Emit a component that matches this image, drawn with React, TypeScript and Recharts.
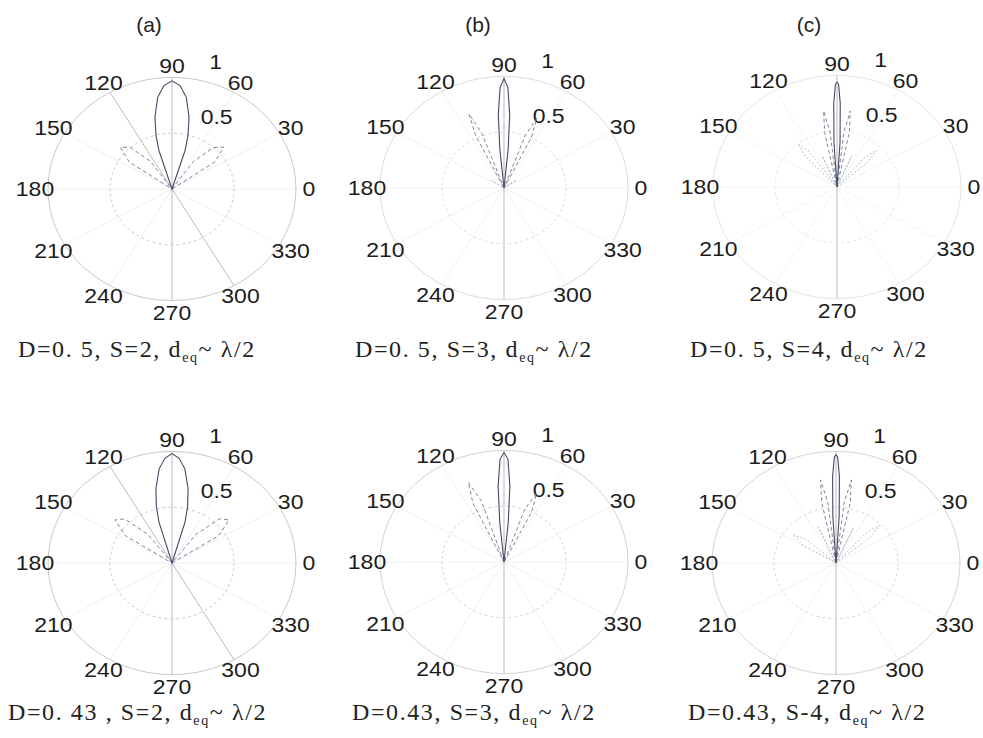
import { RadarChart, Radar, PolarGrid, PolarAngleAxis, PolarRadiusAxis } from "recharts";

/* polar pattern panels: three array sizes (S = 2, 3, 4) at two element spacings */

const ANGLE_TICKS = [0, 30, 60, 90, 120, 150, 180, 210, 240, 270, 300, 330];
const RADIUS_TICKS = [0.5, 1];
const RADIUS_LABEL_ANGLE = 82;

// (a) D=0.5, S=2
const A_MAIN_DEG = [70, 73, 75, 78, 82, 86, 90, 94, 98, 102, 105, 107, 110];
const A_MAIN_R = [0, 0.36, 0.5, 0.66, 0.83, 0.93, 0.97, 0.93, 0.83, 0.66, 0.5, 0.36, 0];
const A_SIDE_DEG = [28, 35, 42, 48, 55, 62, 118, 125, 132, 138, 145, 152];
const A_SIDE_R = [0, 0.42, 0.56, 0.5, 0.3, 0, 0, 0.3, 0.5, 0.56, 0.42, 0];

// (b) D=0.5, S=3
const B_MAIN_DEG = [83, 84.5, 86, 88, 90, 92, 94, 95.5, 97];
const B_MAIN_R = [0, 0.35, 0.66, 0.9, 0.98, 0.9, 0.66, 0.35, 0];
const B_SIDE_DEG = [61, 64, 67, 70, 73, 107, 110, 113, 116, 119];
const B_SIDE_R = [0, 0.5, 0.68, 0.5, 0, 0, 0.52, 0.72, 0.52, 0];
const B_LOW_DEG = [20, 35, 50, 130, 145, 160];
const B_LOW_R = [0, 0.12, 0, 0, 0.12, 0];

// (c) D=0.5, S=4
const C_MAIN_DEG = [85, 86.5, 88, 89.2, 90, 90.8, 92, 93.5, 95];
const C_MAIN_R = [0, 0.4, 0.75, 0.92, 0.94, 0.92, 0.75, 0.4, 0];
const C_SIDE_DEG = [76, 78.5, 81, 83.5, 86, 94, 96.5, 99, 101.5, 104];
const C_SIDE_R = [0, 0.5, 0.69, 0.5, 0, 0, 0.5, 0.69, 0.5, 0];
const C_OUTER_DEG = [38, 42, 46, 50, 54, 62, 67, 72, 108, 113, 118, 121, 125, 129, 133, 137];
const C_OUTER_R = [0, 0.34, 0.46, 0.34, 0, 0, 0.3, 0, 0, 0.3, 0, 0, 0.38, 0.5, 0.38, 0];

// (a') D=0.43, S=2
const A2_MAIN_DEG = [71, 74, 76, 79, 83, 86.5, 90, 93.5, 97, 101, 104, 106, 109];
const A2_MAIN_R = [0, 0.38, 0.52, 0.68, 0.85, 0.94, 0.98, 0.94, 0.85, 0.68, 0.52, 0.38, 0];
const A2_SIDE_DEG = [26, 33, 40, 46, 53, 60, 120, 127, 134, 140, 147, 154];
const A2_SIDE_R = [0, 0.45, 0.6, 0.55, 0.32, 0, 0, 0.32, 0.55, 0.6, 0.45, 0];

// (b') D=0.43, S=3
const B2_MAIN_DEG = [83, 84.5, 86, 88, 90, 92, 94, 95.5, 97];
const B2_MAIN_R = [0, 0.36, 0.68, 0.92, 0.98, 0.92, 0.68, 0.36, 0];
const B2_SIDE_DEG = [60, 63.5, 67, 70.5, 74, 105, 108.5, 112, 115.5, 119];
const B2_SIDE_R = [0, 0.5, 0.67, 0.5, 0, 0, 0.58, 0.77, 0.58, 0];

// (c') D=0.43, S=4
const C2_MAIN_DEG = [85, 86.5, 88, 89.2, 90, 90.8, 92, 93.5, 95];
const C2_MAIN_R = [0, 0.42, 0.78, 0.95, 0.97, 0.95, 0.78, 0.42, 0];
const C2_SIDE_DEG = [76, 78, 80.5, 83, 85, 95, 97, 99.5, 102, 104];
const C2_SIDE_R = [0, 0.55, 0.755, 0.55, 0, 0, 0.55, 0.755, 0.55, 0];
const C2_OUTER_DEG = [36, 40, 44, 48, 52, 60, 66, 72, 108, 114, 120, 134, 139, 144, 149, 154];
const C2_OUTER_R = [0, 0.36, 0.49, 0.36, 0, 0, 0.35, 0, 0, 0.35, 0, 0, 0.32, 0.43, 0.32, 0];

const R = 124; // outer ring radius (px, before squash)
const BOX = 360;
const SQUASH = 0.9;

const SANS = '"Liberation Sans", Arial, sans-serif';
const SERIF = '"Liberation Serif", "Times New Roman", serif';

type CurveStyle = { stroke: string; width: number; dash?: string };
const SOLID: CurveStyle = { stroke: "#454a66", width: 1.1 };
const DASHED: CurveStyle = { stroke: "#7a7e98", width: 1, dash: "4 3" };
const DOTTED: CurveStyle = { stroke: "#a2a5b8", width: 1, dash: "1.5 2.5" };

type Curve = { deg: number[]; r: number[]; style: CurveStyle };
type Panel = {
  cx: number;
  cy: number;
  ring: string;
  spoke: string;
  darkSpokes: number[];
  curves: Curve[];
};

const PANELS: Panel[] = [
  {
    cx: 172, cy: 189, ring: "#c4c4c4", spoke: "#eeeeee", darkSpokes: [90, 270, 120, 300],
    curves: [
      { deg: A_SIDE_DEG, r: A_SIDE_R, style: DASHED },
      { deg: A_MAIN_DEG, r: A_MAIN_R, style: SOLID },
    ],
  },
  {
    cx: 504, cy: 188, ring: "#d8d8d8", spoke: "#f0f0f0", darkSpokes: [90, 270],
    curves: [
      { deg: B_LOW_DEG, r: B_LOW_R, style: DOTTED },
      { deg: B_SIDE_DEG, r: B_SIDE_R, style: DASHED },
      { deg: B_MAIN_DEG, r: B_MAIN_R, style: SOLID },
    ],
  },
  {
    cx: 837, cy: 187, ring: "#e4e4e4", spoke: "#f3f3f3", darkSpokes: [90, 270],
    curves: [
      { deg: C_OUTER_DEG, r: C_OUTER_R, style: DOTTED },
      { deg: C_SIDE_DEG, r: C_SIDE_R, style: DASHED },
      { deg: C_MAIN_DEG, r: C_MAIN_R, style: SOLID },
    ],
  },
  {
    cx: 172, cy: 563, ring: "#c4c4c4", spoke: "#eeeeee", darkSpokes: [90, 270, 120, 300],
    curves: [
      { deg: A2_SIDE_DEG, r: A2_SIDE_R, style: DASHED },
      { deg: A2_MAIN_DEG, r: A2_MAIN_R, style: SOLID },
    ],
  },
  {
    cx: 504, cy: 562, ring: "#d0d0d0", spoke: "#efefef", darkSpokes: [90, 270],
    curves: [
      { deg: B2_SIDE_DEG, r: B2_SIDE_R, style: DASHED },
      { deg: B2_MAIN_DEG, r: B2_MAIN_R, style: SOLID },
    ],
  },
  {
    cx: 836, cy: 563, ring: "#d2d2d2", spoke: "#f0f0f0", darkSpokes: [90, 270],
    curves: [
      { deg: C2_OUTER_DEG, r: C2_OUTER_R, style: DOTTED },
      { deg: C2_SIDE_DEG, r: C2_SIDE_R, style: DASHED },
      { deg: C2_MAIN_DEG, r: C2_MAIN_R, style: SOLID },
    ],
  },
];

const TITLES = [
  { text: "(a)", x: 149, y: 25 },
  { text: "(b)", x: 478, y: 25 },
  { text: "(c)", x: 809, y: 25 },
];

const CAPTIONS = [
  { pre: "D=0. 5, S=2, ", x: 18, y: 336 },
  { pre: "D=0. 5, S=3, ", x: 355, y: 336 },
  { pre: "D=0. 5, S=4, ", x: 690, y: 336 },
  { pre: "D=0. 43 , S=2, ", x: 8, y: 699 },
  { pre: "D=0.43, S=3, ", x: 352, y: 699 },
  { pre: "D=0.43, S-4, ", x: 688, y: 699 },
];

function AngleTick(props: any) {
  const { x, y, payload } = props;
  if (!payload || payload.value >= 360) return <g />;
  return (
    <text x={x} y={y} dy="0.36em" textAnchor="middle" fontSize={23} fontFamily={SANS} fill="#1c1c1c">
      {payload.value}
    </text>
  );
}

// ring values written just right of the 82° ray
function RadiusLabel(props: any) {
  const { x, y, value } = props;
  return (
    <text x={x + 20} y={y - 11} textAnchor="start" fontSize={23} fontFamily={SANS} fill="#1c1c1c">
      {String(value)}
    </text>
  );
}

function Layer({ data, children }: { data: any[]; children: React.ReactNode }) {
  return (
    <div style={{ position: "absolute", left: 0, top: 0 }}>
      <RadarChart
        width={BOX}
        height={BOX}
        cx={BOX / 2}
        cy={BOX / 2}
        outerRadius={R}
        startAngle={0}
        endAngle={360}
        data={data}
        margin={{ top: 0, right: 0, bottom: 0, left: 0 }}
      >
        {children}
      </RadarChart>
    </div>
  );
}

function GridLayer({ panel }: { panel: Panel }) {
  const data = ANGLE_TICKS.map((a) => ({ a, z: 0 }));
  const light = ANGLE_TICKS.filter((d) => !panel.darkSpokes.includes(d));
  return (
    <Layer data={data}>
      <PolarGrid gridType="circle" polarRadius={[]} polarAngles={light} stroke={panel.spoke} />
      <PolarGrid gridType="circle" polarRadius={[]} polarAngles={panel.darkSpokes} stroke="#b8b8b8" />
      <PolarGrid gridType="circle" polarRadius={[R / 2]} polarAngles={[]} stroke={panel.ring} strokeDasharray="3 3" />
      <PolarGrid gridType="circle" polarRadius={[R]} polarAngles={[]} stroke={panel.ring} />
      <PolarAngleAxis
        dataKey="a"
        type="number"
        domain={[0, 360]}
        ticks={ANGLE_TICKS as any}
        tickCount={13}
        tick={<AngleTick />}
        tickSize={13}
        tickLine={false}
        axisLine={false}
      />
      <PolarRadiusAxis domain={[0, 1]} tick={false} axisLine={false} />
      <Radar dataKey="z" stroke="none" fill="none" dot={false} isAnimationActive={false} />
    </Layer>
  );
}

function RadiusLabelLayer() {
  const data = RADIUS_TICKS.map((r) => ({ a: RADIUS_LABEL_ANGLE, r }));
  return (
    <Layer data={data}>
      <PolarAngleAxis dataKey="a" type="number" domain={[0, 360]} tick={false} tickLine={false} axisLine={false} />
      <PolarRadiusAxis domain={[0, 1]} tick={false} axisLine={false} />
      <Radar
        dataKey="r"
        stroke="none"
        fill="none"
        dot={false}
        label={<RadiusLabel />}
        isAnimationActive={false}
      />
    </Layer>
  );
}

function CurveLayer({ curve }: { curve: Curve }) {
  const data = curve.deg.map((a, i) => ({ a, r: curve.r[i] }));
  return (
    <Layer data={data}>
      <PolarAngleAxis dataKey="a" type="number" domain={[0, 360]} tick={false} tickLine={false} axisLine={false} />
      <PolarRadiusAxis domain={[0, 1]} tick={false} axisLine={false} />
      <Radar
        dataKey="r"
        stroke={curve.style.stroke}
        strokeWidth={curve.style.width}
        strokeDasharray={curve.style.dash}
        fill="none"
        fillOpacity={0}
        dot={false}
        isAnimationActive={false}
      />
    </Layer>
  );
}

function PolarPanel({ panel }: { panel: Panel }) {
  return (
    <div
      style={{
        position: "absolute",
        left: panel.cx - BOX / 2,
        top: panel.cy - BOX / 2,
        width: BOX,
        height: BOX,
        transform: `scaleY(${SQUASH})`,
        transformOrigin: "50% 50%",
      }}
    >
      <GridLayer panel={panel} />
      <RadiusLabelLayer />
      {panel.curves.map((c, i) => (
        <CurveLayer key={i} curve={c} />
      ))}
    </div>
  );
}

export default function App() {
  return (
    <div
      style={{
        position: "absolute",
        left: 0,
        top: 0,
        width: 983,
        height: 738,
        overflow: "hidden",
        background: "#fff",
      }}
    >
      {PANELS.map((p, i) => (
        <PolarPanel key={i} panel={p} />
      ))}
      {TITLES.map((t) => (
        <div
          key={t.text}
          style={{
            position: "absolute",
            left: t.x,
            top: t.y,
            transform: "translate(-50%, -50%)",
            font: `21px ${SANS}`,
            color: "#222",
          }}
        >
          {t.text}
        </div>
      ))}
      {CAPTIONS.map((c, i) => (
        <div
          key={i}
          style={{
            position: "absolute",
            left: c.x,
            top: c.y,
            font: `24px ${SERIF}`,
            letterSpacing: 1.6,
            whiteSpace: "pre",
            color: "#222",
          }}
        >
          {c.pre}d
          <span style={{ fontSize: 14, position: "relative", top: 5 }}>eq</span>
          {"~ λ/2"}
        </div>
      ))}
    </div>
  );
}
